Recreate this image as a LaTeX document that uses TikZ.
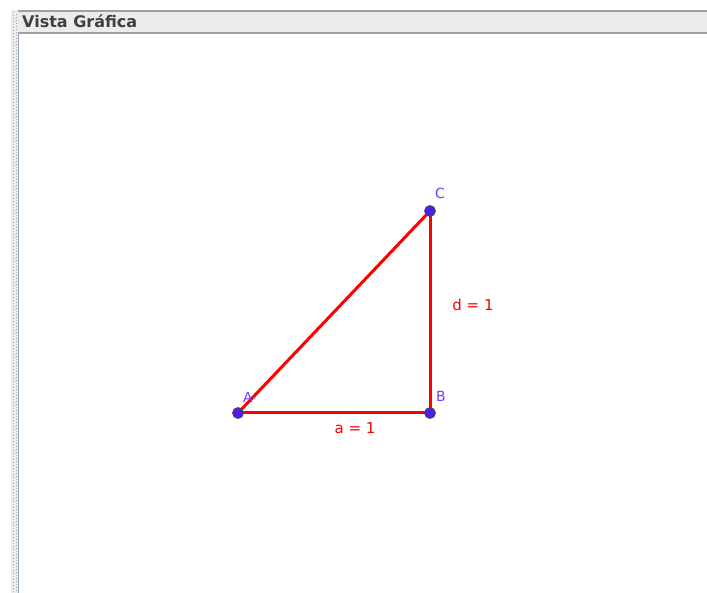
\documentclass[tikz,border=0pt]{standalone}
\usepackage{fontspec}
\setmainfont{DejaVu Sans}
\usepackage{xcolor}
\usetikzlibrary{positioning}

\definecolor{ggred}{RGB}{255,0,0}
\definecolor{ggpoint}{RGB}{80,30,230}
\definecolor{gglabel}{RGB}{122,60,255}
\definecolor{barfill}{RGB}{236,236,236}
\definecolor{barline}{RGB}{160,160,160}
\definecolor{edgeline}{RGB}{150,165,185}

\begin{document}
\begin{tikzpicture}[
  x=1pt, y=-1pt,
  pt/.style={circle, draw=black!70, fill=ggpoint, inner sep=0pt, minimum size=11pt, line width=0.8pt},
  seg/.style={draw=ggred, line width=3pt},
  ptlabel/.style={text=gglabel, font=\fontsize{14}{14}\selectfont, inner sep=0pt},
  seglabel/.style={text=ggred, font=\fontsize{15}{15}\selectfont, inner sep=0pt},
  title/.style={font=\bfseries\fontsize{16}{16}\selectfont, text=black!75, inner sep=0pt, anchor=base west}
]
  \useasboundingbox (0,0) rectangle (707,593);
  \fill[white] (0,0) rectangle (707,593);

  % left strip and header bar
  \fill[barfill] (11,10) rectangle (18,593);
  \draw[black!35, line width=1pt, dotted] (13,12) -- (13,593);
  \draw[black!35, line width=1pt, dotted] (16,14) -- (16,593);
  \draw[edgeline, line width=1.5pt] (18.5,34) -- (18.5,593);
  \fill[barfill] (18,10) rectangle (707,34);
  \draw[barline, line width=2pt] (18,11) -- (707,11);
  \draw[barline, line width=2pt] (18,33) -- (707,33);
  \node[title] (vista) at (22,27.5) {Vista Gráfica};

  % triangle
  \coordinate (pA) at (238,413);
  \coordinate (pB) at (430,413);
  \coordinate (pC) at (430,211);
  \draw[seg] (pA) -- (pB);
  \draw[seg] (pB) -- (pC);
  \draw[seg] (pC) -- (pA);
  \node[pt] (A) at (pA) {};
  \node[pt] (B) at (pB) {};
  \node[pt] (C) at (pC) {};

  \node[ptlabel] (labA) at (248,397) {A};
  \node[ptlabel] (labB) at (441,396) {B};
  \node[ptlabel] (labC) at (440,193) {C};
  \node[seglabel] (laba) at (355,428) {a = 1};
  \node[seglabel] (labd) at (473,305) {d = 1};
\end{tikzpicture}
\end{document}
